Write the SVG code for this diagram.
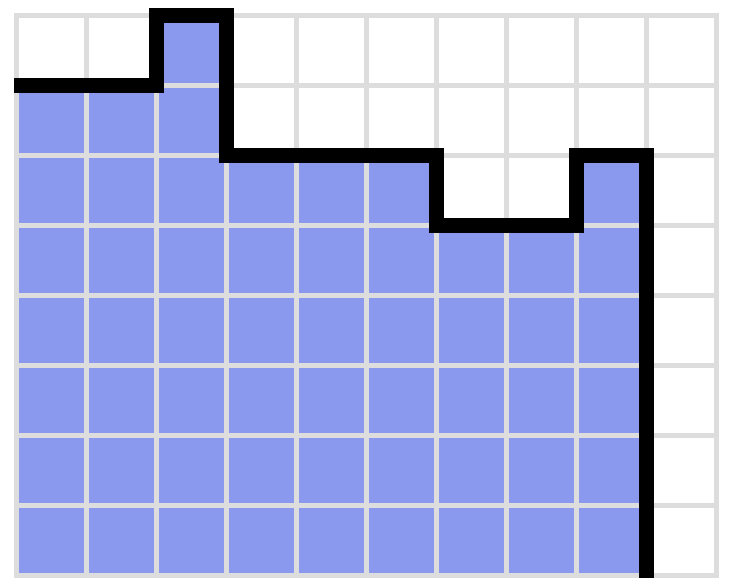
<svg xmlns="http://www.w3.org/2000/svg" width="729" height="585" viewBox="0 0 729 585">
  <style>
    .fill { fill: #8a99ee; stroke: none; }
    .grid { stroke: #dddddd; stroke-width: 5; fill: none; }
    .outline { stroke: #000000; stroke-width: 15; fill: none; stroke-linejoin: miter; stroke-linecap: butt; }
  </style>
  <rect width="729" height="585" fill="#ffffff"/>
  <g id="area">
    <path class="fill" d="M16.5,85.5 H156.5 V15.5 H226.5 V155.5 H436.5 V225.5 H576.5 V155.5 H646.5 V575.5 H16.5 Z"/>
  </g>
  <g id="grid" class="grid">
    <path d="M16.5,13 V578 M86.5,13 V578 M156.5,13 V578 M226.5,13 V578 M296.5,13 V578 M366.5,13 V578 M436.5,13 V578 M506.5,13 V578 M576.5,13 V578 M646.5,13 V578 M716.5,13 V578"/>
    <path d="M14,15.5 H719 M14,85.5 H719 M14,155.5 H719 M14,225.5 H719 M14,295.5 H719 M14,365.5 H719 M14,435.5 H719 M14,505.5 H719 M14,575.5 H719"/>
  </g>
  <g id="outline">
    <path class="outline" d="M14,85.5 H156.5 V15.5 H226.5 V155.5 H436.5 V225.5 H576.5 V155.5 H646.5 V578"/>
  </g>
</svg>
